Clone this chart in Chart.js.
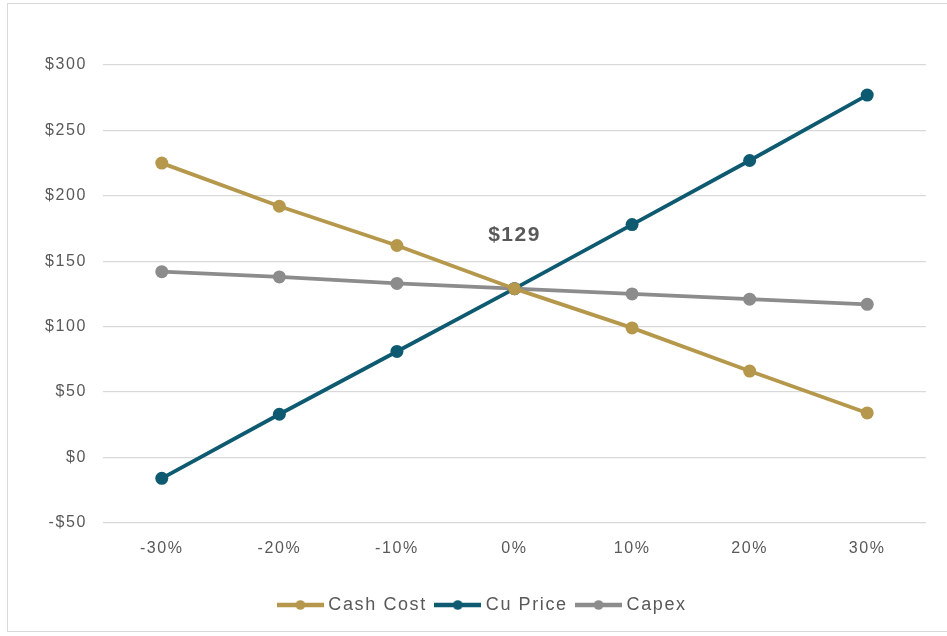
<!DOCTYPE html>
<html>
<head>
<meta charset="utf-8">
<script src="https://cdn.jsdelivr.net/npm/chart.js@4.4.1/dist/chart.umd.min.js"></script>
<style>
  html,body{margin:0;padding:0;background:#fff;}
  #wrap{position:relative;width:947px;height:636px;}
  #frame{position:absolute;left:7px;top:3px;width:960px;height:629px;border:1px solid #d9d9d9;box-sizing:border-box;pointer-events:none;}
  canvas{position:absolute;left:0;top:0;}
</style>
</head>
<body>
<div id="wrap">
  <canvas id="c" width="947" height="636"></canvas>
  <div id="frame"></div>
</div>
<script>
const categories = ['-30%', '-20%', '-10%', '0%', '10%', '20%', '30%'];
const cashCost = [225, 192, 162, 129, 99, 66, 34];
const cuPrice = [-16, 33, 81, 129, 178, 227, 277];
const capex = [142, 138, 133, 129, 125, 121, 117];
const seriesNames = ['Cash Cost', 'Cu Price', 'Capex'];
const seriesColors = ['#B5984C', '#0E5A70', '#8C8C8C'];
const yTicks = [-50, 0, 50, 100, 150, 200, 250, 300];
const annotationText = '$129';
const annotationAt = {index: 3, value: 170};

const FONT = "'Liberation Sans', Arial, sans-serif";
const SPACING = '1.6px';

function legendMarker(color) {
  const cv = document.createElement('canvas');
  cv.width = 47; cv.height = 14;
  const g = cv.getContext('2d');
  g.strokeStyle = color; g.lineWidth = 4.5;
  g.beginPath(); g.moveTo(0, 7); g.lineTo(47, 7); g.stroke();
  g.fillStyle = color;
  g.beginPath(); g.arc(23.5, 7, 4.8, 0, Math.PI * 2); g.fill();
  return cv;
}
const markers = seriesColors.map(legendMarker);

const spacingPlugin = {
  id: 'spacing',
  beforeLayout(chart) { chart.ctx.letterSpacing = SPACING; },
  beforeDraw(chart) { chart.ctx.letterSpacing = SPACING; }
};

const annotationPlugin = {
  id: 'annot',
  afterDatasetsDraw(chart) {
    const ctx = chart.ctx;
    const x = chart.scales.x.getPixelForValue(annotationAt.index);
    const y = chart.scales.y.getPixelForValue(annotationAt.value);
    ctx.save();
    ctx.letterSpacing = '1.5px';
    ctx.font = "bold 21px " + FONT;
    ctx.fillStyle = '#595959';
    ctx.textAlign = 'center';
    ctx.textBaseline = 'middle';
    ctx.fillText(annotationText, x, y);
    ctx.restore();
  }
};

const data = [cashCost, cuPrice, capex];
new Chart(document.getElementById('c'), {
  type: 'line',
  data: {
    labels: categories,
    datasets: data.map((d, i) => ({
      label: seriesNames[i],
      data: d,
      borderColor: seriesColors[i],
      backgroundColor: seriesColors[i],
      borderWidth: 3.8,
      pointRadius: 6.5,
      pointHoverRadius: 6.5,
      pointBorderWidth: 0,
      tension: 0,
      fill: false
    }))
  },
  options: {
    responsive: false,
    animation: false,
    devicePixelRatio: 1,
    layout: {padding: {left: 42, right: 21, top: 65, bottom: 12}},
    plugins: {
      legend: {
        position: 'bottom',
        labels: {
          usePointStyle: true,
          pointStyleWidth: 38,
          padding: 12,
          color: '#595959',
          font: {family: FONT, size: 18},
          generateLabels(chart) {
            return chart.data.datasets.map((ds, i) => ({
              text: ds.label,
              pointStyle: markers[i],
              fillStyle: ds.borderColor,
              strokeStyle: ds.borderColor,
              fontColor: '#595959',
              lineWidth: 0,
              hidden: false,
              datasetIndex: i
            }));
          }
        }
      },
      tooltip: {enabled: false}
    },
    scales: {
      x: {
        offset: true,
        afterFit(s) { s.height = s.height + 18; },
        grid: {display: false},
        border: {display: false},
        ticks: {color: '#595959', font: {family: FONT, size: 16}, padding: 8}
      },
      y: {
        min: -50, max: 300,
        afterFit(s) { s.width = 61; },
        afterBuildTicks(s) { s.ticks = yTicks.map(v => ({value: v})); },
        grid: {color: '#d9d9d9', lineWidth: 1.3, drawTicks: false},
        border: {display: false},
        ticks: {
          color: '#595959',
          font: {family: FONT, size: 16},
          padding: 16,
          callback: v => (v < 0 ? '-$' : '$') + Math.abs(v)
        }
      }
    }
  },
  plugins: [spacingPlugin, annotationPlugin]
});
</script>
</body>
</html>
